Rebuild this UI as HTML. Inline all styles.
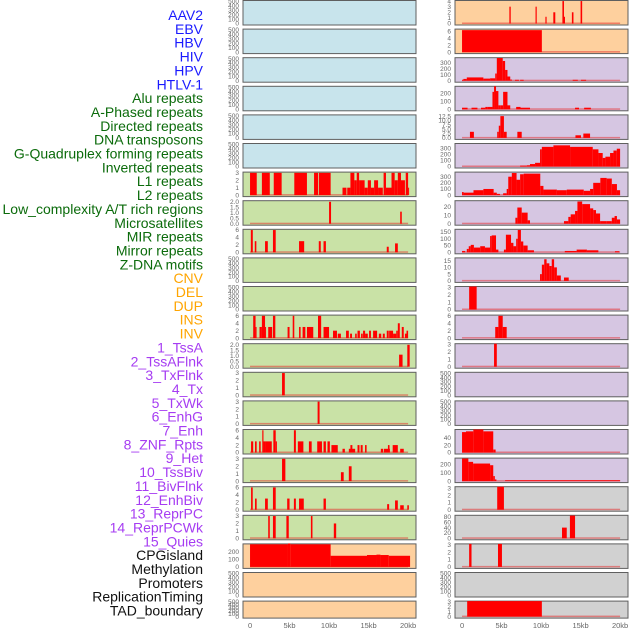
<!DOCTYPE html>
<html><head><meta charset="utf-8">
<style>
html,body{margin:0;padding:0;background:#fff;width:630px;height:630px;overflow:hidden}
svg{display:block;font-family:"Liberation Sans",sans-serif}
</style></head>
<body>
<svg id="chart" width="630" height="630" viewBox="0 0 630 630" xmlns="http://www.w3.org/2000/svg"></svg>
<script>
const trackLabels=["AAV2","EBV","HBV","HIV","HPV","HTLV-1","Alu repeats","A-Phased repeats","Directed repeats","DNA transposons","G-Quadruplex forming repeats","Inverted repeats","L1 repeats","L2 repeats","Low_complexity A/T rich regions","Microsatellites","MIR repeats","Mirror repeats","Z-DNA motifs","CNV","DEL","DUP","INS","INV","1_TssA","2_TssAFlnk","3_TxFlnk","4_Tx","5_TxWk","6_EnhG","7_Enh","8_ZNF_Rpts","9_Het","10_TssBiv","11_BivFlnk","12_EnhBiv","13_ReprPC","14_ReprPCWk","15_Quies","CPGisland","Methylation","Promoters","ReplicationTiming","TAD_boundary"];
const labelGroups=[0,0,0,0,0,0,1,1,1,1,1,1,1,1,1,1,1,1,1,2,2,2,2,2,3,3,3,3,3,3,3,3,3,3,3,3,3,3,3,4,4,4,4,4];
const groupColors=["#1a1aff","#0b6b0b","#ffa500","#a63cf2","#111111"];
const xTickValues=[0,5,10,15,20];
const xTickLabels=["0","5kb","10kb","15kb","20kb"];
const T500=[0,100,200,300,400,500],T3=[0,1,2,3],T6=[0,2,4,6],T2=[0,0.5,1,1.5,2];
const leftBg=["b","b","b","b","b","b","g","g","g","g","g","g","g","g","g","g","g","g","g","o","o","o"];
const leftYmax=[520,520,520,520,520,520,3.1,2.1,6.2,520,520,6.2,2.1,3.1,3.1,6.2,3.1,6.2,3.1,300,520,520];
const leftTicks=[T500,T500,T500,T500,T500,T500,T3,T2,T6,T500,T500,T6,T2,T3,T3,T6,T3,T6,T3,[0,100,200],T500,T500];
const leftSegs=[[],[],[],[],[],[],
[[0,0.85,3],[1.5,2.5,3],[3,4,3],[5.6,7.2,3],[8.1,8.6,3],[8.7,10.2,3],[11.7,12.2,1],[12.3,12.7,1],[12.7,13.2,3],[13.2,13.5,2],[13.5,13.8,3],[13.8,14.5,2],[14.5,14.9,1],[14.9,15.3,2],[15.3,15.7,1],[15.7,16.2,2],[16.2,16.8,1],[16.9,17.2,3],[17.2,17.9,1],[17.9,18.3,3],[18.3,18.7,2],[18.7,19.1,3],[19.1,19.6,2],[19.7,20,3],[20,20.1,1]],
[[10.0,10.25,2],[19.0,19.2,1.1]],
[[0.1,0.35,6],[0.6,0.8,3],[1.9,2.25,3],[2.9,3.25,6],[6.2,6.85,3],[8.7,8.95,3],[9.3,9.6,3],[17.3,17.55,1.5],[18.35,18.7,2.4]],
[],[],
[[0.4,0.7,6],[0.7,0.8,3],[1.2,1.5,3],[1.5,1.9,6],[1.9,2.0,3],[2.3,2.8,3],[2.9,3.2,6],[4.75,5,3],[5.4,5.6,6],[6.2,6.4,3],[6.65,7,3],[7.2,8,3],[8.6,9,6],[9.3,10,3],[10.5,11,2],[11.1,11.5,1.2],[12.15,12.5,2],[12.66,12.9,1.2],[13.3,13.5,1.2],[13.6,13.9,2],[14.05,14.26,1.2],[14.3,14.56,2],[14.56,14.9,1.2],[15.06,15.3,2],[15.57,16.08,2],[16.3,16.6,1.2],[16.8,17.05,1.2],[17.3,17.55,2],[17.6,18.1,2],[18.1,18.5,1.2],[18.5,18.7,2],[18.7,18.95,4],[19.2,19.45,3],[19.6,19.8,1.2],[19.8,20,2]],
[[18.86,19.3,1.1],[19.9,20.2,2]],
[[4.05,4.4,3]],
[[8.55,8.8,3]],
[[0.13,0.4,3],[0.63,0.84,3],[1.15,1.35,3],[1.55,1.7,6],[1.7,1.9,3],[1.9,2.75,3],[2.95,3.25,6],[3.25,3.4,3],[5.55,5.8,6],[6.05,6.75,3],[7.45,7.8,3],[8.5,9.1,3],[9.3,9.6,3],[9.8,10.1,3],[10.3,11.1,2],[11.7,12,1],[12.5,13.3,1],[12.7,12.95,2],[13.6,13.85,2],[14,14.25,2],[14.55,14.75,2],[16.55,16.85,1],[16.95,17.7,1],[17.45,17.65,2],[18.05,18.7,2],[19,19.45,1]],
[[4.05,4.47,3],[11.5,11.85,1.2],[12.5,12.85,2]],
[[0.13,0.34,6],[0.63,0.84,3],[1.9,2.25,3],[2.9,3.25,6],[4.7,5,3],[5.55,5.8,3],[6.2,6.8,3],[9.3,9.6,3],[17.35,17.6,1.5],[18.35,18.7,2.5],[19,19.45,1.2],[19.9,20.1,1.2]],
[[2.3,2.5,3],[2.9,3.25,3],[4.6,4.9,3],[7.7,7.9,3],[10.6,10.9,2]],
[[0,4.8,295],[4.8,5.1,305],[5.1,10.2,295],[10.2,14.8,145],[14.8,16.0,155],[16.0,16.5,160],[16.5,17.55,155],[17.55,20.25,145]],
[],[]];
const rightBg=["o","o","p","p","p","p","p","p","p","p","p","p","p","p","p","p","p","y","y","y","y","y"];
const rightYmax=[4.1,6.6,385,290,13.2,375,375,27,170,17,3.1,6.2,3.1,520,520,62,275,3.2,86,3.1,520,3.1];
const rightTicks=[[0,1,2,3,4],[0,2,4,6],[0,100,200,300],[0,100,200],[0,2.5,5,7.5,10,12.5],[0,100,200,300],[0,100,200,300],[0,10,20],[0,50,100,150],[0,5,10,15],T3,T6,T3,T500,T500,[0,20,40],[0,100,200],T3,[0,20,40,60,80],T3,T500,T3];
const rightSegs=[
[[5.99,6.16,3],[9.3,9.45,3],[10.55,10.7,1.2],[11.55,11.8,2],[12.7,12.9,4],[12.9,13.0,1.2],[13.9,14.1,2],[15.0,15.2,4]],
[[0,10.1,6.3]],
[[0,0.17,15],[0.17,0.6,30],[0.6,2.7,55],[2.7,3.55,35],[3.55,4.2,40],[4.2,4.4,120],[4.4,5.15,380],[5.15,5.45,330],[5.45,5.75,180],[5.75,6.1,70],[6.1,6.3,20],[6.7,7.2,15],[7.35,7.8,15],[14,14.65,15],[15.05,15.7,15]],
[[0,0.7,20],[1.2,1.95,20],[2.4,2.95,20],[2.95,3.25,30],[3.25,3.85,30],[3.85,4.05,220],[4.05,4.3,290],[4.3,4.6,230],[4.6,4.9,50],[4.9,5.2,50],[5.2,5.75,220],[5.75,6.1,50],[6.85,7.4,30],[7.4,8.6,20],[14.3,14.8,20],[15.45,16.3,20]],
[[1.0,1.5,3.5],[4.45,4.65,3.5],[4.65,4.85,7],[4.85,5.3,12.5],[5.3,5.65,3.5],[7,7.55,3.5],[14.35,15.05,1.5],[15.35,16.2,2.5]],
[[7.35,8.2,15],[8.2,8.6,20],[8.6,9.24,40],[9.24,9.87,60],[9.87,10.1,280],[10.1,11.56,320],[11.56,13.67,345],[13.67,16.54,320],[16.54,17.26,280],[17.26,17.8,220],[17.8,18.14,140],[18.14,18.73,160],[18.73,19.16,220],[19.16,19.58,260],[19.58,20,290]],
[[0,0.2,50],[0.2,1.45,40],[1.45,2.7,80],[2.7,4,100],[4,4.4,40],[4.4,4.8,20],[5.2,5.65,30],[5.65,5.85,100],[5.85,6.3,300],[6.3,6.9,360],[6.9,7.35,250],[7.35,7.8,340],[7.8,9.9,350],[9.9,10.3,150],[10.3,12,90],[12,13.25,80],[13.25,15.4,90],[15.4,16.2,70],[16.2,16.6,100],[16.6,17.5,200],[17.5,18.3,280],[18.3,18.95,270],[18.95,19.6,180],[19.6,20,80]],
[[6.75,7,7],[7,7.55,19],[7.55,8.3,13],[8.3,8.6,4],[12.9,13.45,3],[13.45,13.75,8],[13.75,14.3,11],[14.3,14.6,15],[14.6,15.2,26],[15.2,16.2,23],[16.2,16.6,18],[16.6,16.95,16],[16.95,17.47,12],[17.47,18.3,3],[18.3,18.95,3],[18.95,19.3,7],[19.3,19.6,9],[19.6,20,5]],
[[0,0.4,10],[0.6,0.85,25],[0.85,1.1,45],[1.1,1.5,55],[1.5,2.3,35],[2.3,2.9,45],[2.9,3.55,35],[3.55,3.75,120],[3.75,4.3,125],[4.3,4.6,20],[5.3,5.55,20],[5.55,6.2,130],[6.2,6.5,70],[6.5,6.85,45],[6.85,7.05,100],[7.05,7.45,165],[7.45,7.75,80],[7.75,8.3,50],[8.3,9.1,15],[13,14.5,10],[14.5,15.8,20],[15.8,17.25,15],[19.35,19.9,8]],
[[9.87,10.1,5],[10.1,10.4,12],[10.4,10.7,16],[10.7,11.05,13],[11.05,11.35,11],[11.35,11.65,16],[11.65,12,10],[12,12.5,4],[12.9,13.5,2.5]],
[[0.9,1.85,3.1]],
[[4.2,4.6,3],[4.6,5.15,6],[5.15,5.65,3]],
[[4.05,4.4,3.1]],
[],[],
[[0,0.5,55],[0.5,1.43,57],[1.43,2.7,62],[2.7,3.95,57],[3.95,4.25,8]],
[[0,0.8,270],[0.8,1.4,230],[1.4,3.55,210],[3.55,3.95,190],[3.95,4.15,60],[4.15,4.35,20],[5.45,20,10]],
[[4.45,5.3,3.2]],
[[12.65,13.25,40],[13.65,14.3,85]],
[[0.9,1.2,3.1],[4.55,5.05,3.1]],
[],
[[0.65,10.1,3.1]]];

const NS="http://www.w3.org/2000/svg";
const svg=document.getElementById("chart");
const bgColors={b:"#c8e4ec",g:"#c9e2a6",o:"#fed09e",p:"#d6c6e2",y:"#d1d1d1"};
const colX=[243,455],panelW=173,xMin=-0.89,xMax=21.0;
function mk(tag,attrs){const e=document.createElementNS(NS,tag);for(const k in attrs)e.setAttribute(k,attrs[k]);svg.appendChild(e);return e;}
function xScale(col,kb){return colX[col]+(kb-xMin)/(xMax-xMin)*panelW;}
function rowTop(r){return r*28.6+0.5;}
function rowH(r){return r===21?17:24.5;}
function yScale(v,r,ymax){const top=rowTop(r),h=rowH(r);const base=top+h-1.5;return base-(v/ymax)*(base-top);}

trackLabels.forEach((t,i)=>{
  const el=mk("text",{x:203,y:15+i*13.85+5,"text-anchor":"end","font-size":"14",fill:groupColors[labelGroups[i]]});
  el.textContent=t;
  
  
});

function drawPanel(col,r,bg,ymax,ticks,segs){
  const top=rowTop(r),h=rowH(r),x0=colX[col];
  const rect=mk("rect",{x:x0,y:top,width:panelW,height:h,fill:bgColors[bg],stroke:"#5f5f5f","stroke-width":1});
  
  
  const decimal=ticks.some(tv=>tv%1!==0);
  ticks.forEach(tv=>{
    const tl=mk("text",{x:x0-4,y:yScale(tv,r,ymax)+2.2,"text-anchor":"end","font-size":"6.5",fill:"#666"});
    tl.textContent=decimal?tv.toFixed(1):String(tv);
    
    
  });
  if(segs.length){
    const bl=mk("rect",{x:xScale(col,0),y:yScale(0,r,ymax)-1,width:xScale(col,20)-xScale(col,0),height:1.5,fill:"rgba(230,40,40,0.5)"});
    
    
  }
  segs.forEach(s=>{
    const xa=xScale(col,s[0]),xb=xScale(col,s[1]);
    const ya=yScale(s[2],r,ymax),yb=yScale(0,r,ymax);
    const b=mk("rect",{x:xa,y:ya,width:Math.max(1,xb-xa),height:Math.max(0.5,yb-ya),fill:"#ff0000"});
    
    
  });
}
for(let r=0;r<22;r++){
  drawPanel(0,r,leftBg[r],leftYmax[r],leftTicks[r],leftSegs[r]);
  drawPanel(1,r,rightBg[r],rightYmax[r],rightTicks[r],rightSegs[r]);
}
[0,1].forEach(col=>{
  xTickValues.forEach((v,i)=>{
    const t=mk("text",{x:xScale(col,v),y:628,"text-anchor":"middle","font-size":"7.5",fill:"#666"});
    t.textContent=xTickLabels[i];
    
    
  });
});
</script>
</body></html>
